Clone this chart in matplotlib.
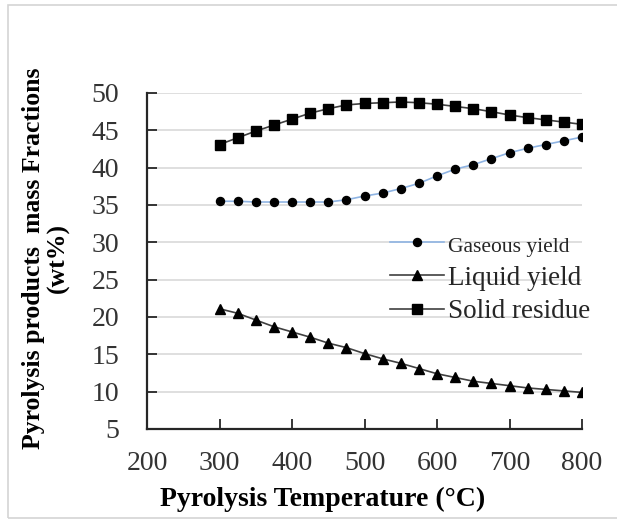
import matplotlib.pyplot as plt
from matplotlib.patches import Rectangle

# temperature steps (degC)
temps = [300, 325, 350, 375, 400, 425, 450, 475, 500, 525, 550,
         575, 600, 625, 650, 675, 700, 725, 750, 775, 800]
# product fractions (wt%)
gas = [35.5, 35.5, 35.4, 35.4, 35.4, 35.4, 35.4, 35.7, 36.2, 36.6, 37.2,
       37.9, 38.9, 39.8, 40.4, 41.2, 42.0, 42.6, 43.1, 43.6, 44.1]
liquid = [21.1, 20.5, 19.6, 18.7, 18.0, 17.3, 16.5, 15.9, 15.1, 14.4, 13.8,
          13.1, 12.4, 11.9, 11.4, 11.1, 10.8, 10.5, 10.3, 10.1, 9.9]
solid = [43.1, 44.0, 44.9, 45.7, 46.5, 47.3, 47.9, 48.4, 48.6, 48.7, 48.8,
         48.7, 48.5, 48.2, 47.9, 47.5, 47.05, 46.7, 46.4, 46.1, 45.8]

xticks = [200, 300, 400, 500, 600, 700, 800]
yticks = [5, 10, 15, 20, 25, 30, 35, 40, 45, 50]

plt.rcParams['font.family'] = ['Liberation Serif', 'DejaVu Serif']

fig = plt.figure(figsize=(6.17, 5.21), dpi=100)
fig.patches.append(Rectangle((8/617, 3/521), 1.2, 513/521, transform=fig.transFigure,
                             facecolor='none', edgecolor='#d4d4d4', lw=1.2))
ax = fig.add_axes([147/617, 1 - 429/521, 435/617, 336/521])

ax.plot(temps, gas, color='#8fb4e3', lw=1.2, marker='o', ms=5.8,
        mfc='black', mec='black', label='Gaseous yield', zorder=3)
ax.plot(temps, liquid, color='#404040', lw=1.2, marker='^', ms=7,
        mfc='black', mec='black', label='Liquid yield', zorder=3)
ax.plot(temps, solid, color='#404040', lw=1.2, marker='s', ms=6.5,
        mfc='black', mec='black', label='Solid residue', zorder=3)

ax.set_xlim(200, 800)
ax.set_ylim(5, 50)
ax.set_xticks(xticks)
ax.set_yticks(yticks)
ax.yaxis.grid(True, color='#d9d9d9', lw=1.2)
ax.set_axisbelow(True)
for s in ('top', 'right'):
    ax.spines[s].set_visible(False)
for s in ('left', 'bottom'):
    ax.spines[s].set_linewidth(1.6)
    ax.spines[s].set_color('#262626')
ax.tick_params(axis='both', direction='in', length=7, width=1.3, color='#262626',
               labelsize=20, labelcolor='#333333')
ax.tick_params(axis='y', pad=20)
ax.tick_params(axis='x', pad=16)

fig.text(323/617, 1 - 499/521, 'Pyrolysis Temperature (\u00b0C)', ha='center', va='center',
         fontsize=20, fontweight='bold')
fig.text(46/617, 1 - 258/521, 'Pyrolysis products  mass Fractions\n(wt%)', ha='center',
         va='center', rotation=90, fontsize=18.5, fontweight='bold', linespacing=1.1)

leg = ax.legend(loc='upper left', bbox_to_anchor=(390/617, 1 - 233/521),
                bbox_transform=fig.transFigure, frameon=False, handlelength=2.0,
                handletextpad=0.15, labelspacing=0.32, borderaxespad=0, borderpad=0,
                prop={'size': 19.5})
sizes = [15.5, 19.5, 19.5]
for t, sz in zip(leg.get_texts(), sizes):
    t.set_fontsize(sz)
    t.set_color('#262626')

fig.savefig('out.png')
